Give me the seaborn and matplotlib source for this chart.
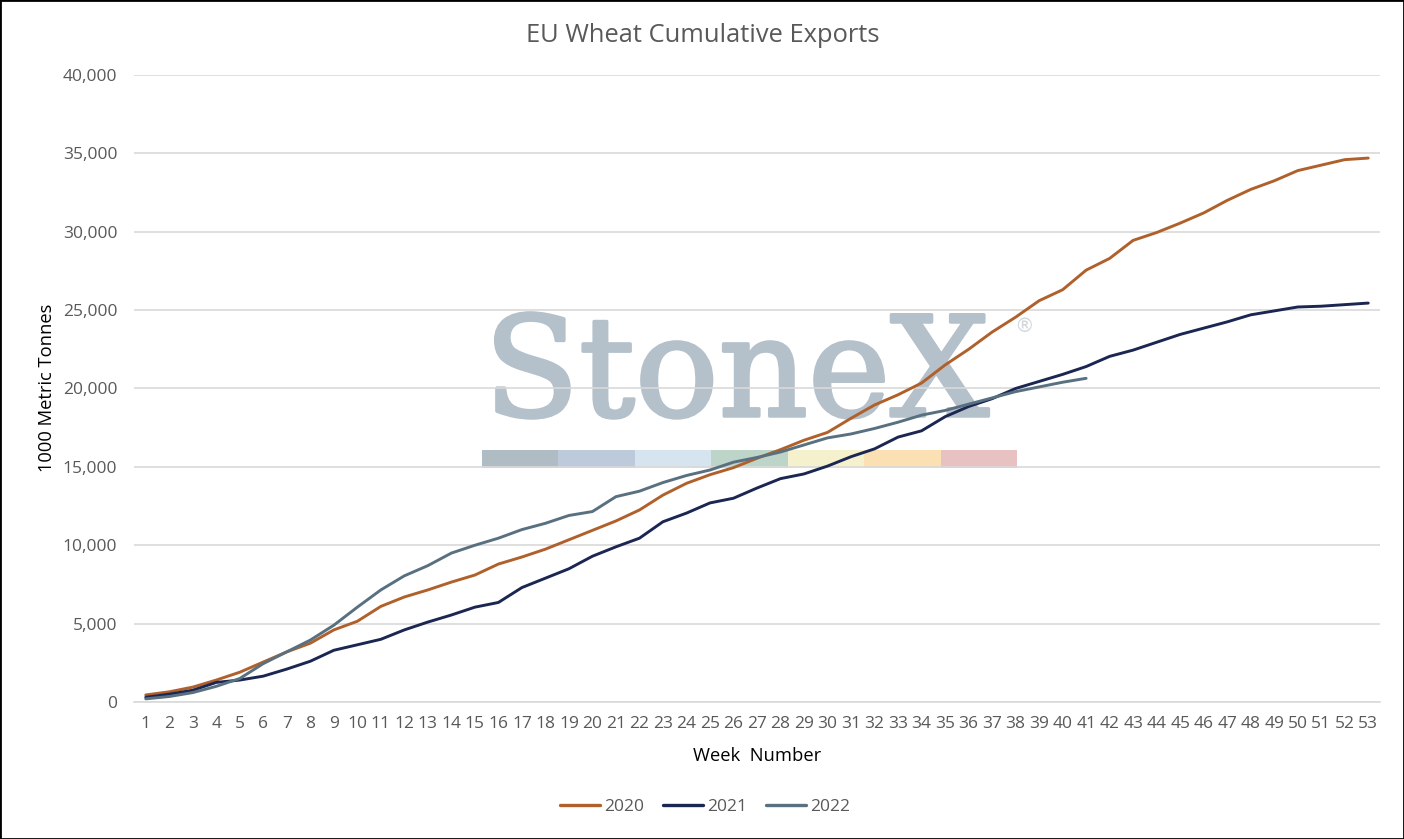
import matplotlib
matplotlib.use("Agg")
import matplotlib.pyplot as plt
from matplotlib.patches import Rectangle
from matplotlib.ticker import FuncFormatter, FixedLocator
import matplotlib.patheffects as pe
import seaborn as sns
import pandas as pd

weeks = [1, 2, 3, 4, 5, 6, 7, 8, 9, 10, 11, 12, 13, 14, 15, 16, 17, 18, 19, 20,
         21, 22, 23, 24, 25, 26, 27, 28, 29, 30, 31, 32, 33, 34, 35, 36, 37, 38, 39, 40,
         41, 42, 43, 44, 45, 46, 47, 48, 49, 50, 51, 52, 53]

exports_2020 = [450, 650, 950, 1400, 1900, 2550, 3200, 3750, 4600, 5150,
                6100, 6700, 7150, 7650, 8100, 8800, 9250, 9750, 10350, 10950,
                11550, 12250, 13200, 13950, 14500, 14950, 15550, 16100, 16700, 17200,
                18100, 18950, 19600, 20350, 21500, 22500, 23600, 24550, 25600, 26300,
                27550, 28300, 29450, 29950, 30550, 31200, 32000, 32700, 33250, 33900,
                34250, 34600, 34700]

exports_2021 = [300, 500, 750, 1250, 1400, 1650, 2100, 2600, 3300, 3650,
                4000, 4600, 5100, 5550, 6050, 6350, 7300, 7900, 8500, 9300,
                9900, 10450, 11500, 12050, 12700, 13000, 13650, 14250, 14550, 15050,
                15650, 16150, 16900, 17300, 18200, 18850, 19350, 20000, 20450, 20900,
                21400, 22050, 22450, 22950, 23450, 23850, 24250, 24700, 24950, 25200,
                25250, 25350, 25450]

exports_2022 = [200, 350, 600, 1000, 1500, 2450, 3200, 3950, 4900, 6050,
                7150, 8050, 8700, 9500, 10000, 10450, 11000, 11400, 11900, 12150,
                13100, 13450, 14000, 14450, 14800, 15300, 15600, 15950, 16400, 16850,
                17100, 17450, 17850, 18300, 18600, 19000, 19400, 19800, 20100, 20400,
                20650]

series_names = ["2020", "2021", "2022"]
series_values = [exports_2020, exports_2021, exports_2022]
colors = ["#b0602b", "#1b2652", "#587080"]

title = "EU Wheat Cumulative Exports"
y_label = "1000 Metric Tonnes"
x_label = "Week  Number"
y_ticks = [0, 5000, 10000, 15000, 20000, 25000, 30000, 35000, 40000]

rows = []
for name, vals in zip(series_names, series_values):
    for w, v in zip(weeks, vals):
        rows.append({"Week": w, "Value": v, "Year": name})
df = pd.DataFrame(rows)

sns.set_theme(style="white")
plt.rcParams["font.family"] = ["Open Sans", "DejaVu Sans"]

W, H = 1404, 839
fig = plt.figure(figsize=(W / 100, H / 100), dpi=100)
ax = fig.add_axes([134 / W, 1 - 702 / H, (1380 - 134) / W, (702 - 75) / H])

sns.lineplot(data=df, x="Week", y="Value", hue="Year", palette=colors,
             hue_order=series_names, linewidth=2.1, ax=ax, legend=False, zorder=3)

# watermark
wm_color = "#b4c0ca"
ax.text(484 / W, 1 - 416 / H, "StoneX", transform=fig.transFigure, fontsize=100,
        family="DejaVu Serif", color=wm_color, ha="left", va="baseline", zorder=0.3,
        path_effects=[pe.withStroke(linewidth=2.5, foreground=wm_color)])
ax.text(1014 / W, 1 - 327 / H, "®", transform=fig.transFigure, fontsize=14,
        family="DejaVu Sans", color="#d0d8de", ha="left", va="center", zorder=0.3)
bar_colors = ["#b0bcc4", "#bccadb", "#d6e4ef", "#bdd4c8", "#f5f1cc", "#fae0b3", "#e8c1c2"]
seg_w = (1017 - 482) / 7
for i, c in enumerate(bar_colors):
    ax.add_patch(Rectangle(((482 + i * seg_w) / W, 1 - 468 / H), seg_w / W, 18 / H,
                           transform=fig.transFigure, facecolor=c, edgecolor="none",
                           zorder=0.3))

ax.set_xlim(0.5, 53.5)
ax.set_ylim(0, 40000)
ax.set_yticks(y_ticks)
ax.yaxis.set_major_formatter(FuncFormatter(lambda v, p: f"{int(v):,}"))
ax.set_xticks(weeks)
ax.set_xticklabels([str(w) for w in weeks])
ax.xaxis.set_minor_locator(FixedLocator([w - 0.5 for w in weeks] + [53.5]))

ax.grid(axis="y", color="#d9d9d9", linewidth=1.2)
ax.set_axisbelow(True)
for s in ["top", "right", "left"]:
    ax.spines[s].set_visible(False)
ax.spines["bottom"].set_color("#d9d9d9")
ax.spines["bottom"].set_linewidth(1.2)

ax.tick_params(axis="x", which="major", length=0, pad=10, labelsize=12.5, labelcolor="#595959")
ax.tick_params(axis="x", which="minor", length=5, width=1.2, color="#d9d9d9", direction="out")
ax.tick_params(axis="y", which="major", length=0, pad=12, labelsize=12.5, labelcolor="#595959")

ax.set_xlabel("")
ax.set_ylabel("")
fig.text(757 / W, 1 - 756 / H, x_label, ha="center", va="center", fontsize=13.2, color="black")
fig.text(47 / W, 1 - 388 / H, y_label, ha="center", va="center", rotation=90,
         fontsize=13.2, color="black")
fig.text(703 / W, 1 - 36 / H, title, ha="center", va="center", fontsize=18.4, color="#595959")

handles = [plt.Line2D([], [], color=c, linewidth=2.4) for c in colors]
fig.legend(handles, series_names, loc="center", bbox_to_anchor=(705 / W, 1 - 807 / H),
           ncol=3, frameon=False, fontsize=12.5, handlelength=2.35, handletextpad=0.23,
           columnspacing=1.05, labelcolor="#595959")

fig.patches.append(Rectangle((0, 0), 1, 1, transform=fig.transFigure, fill=False,
                             edgecolor="black", linewidth=2))

fig.savefig("out.png", dpi=100)
